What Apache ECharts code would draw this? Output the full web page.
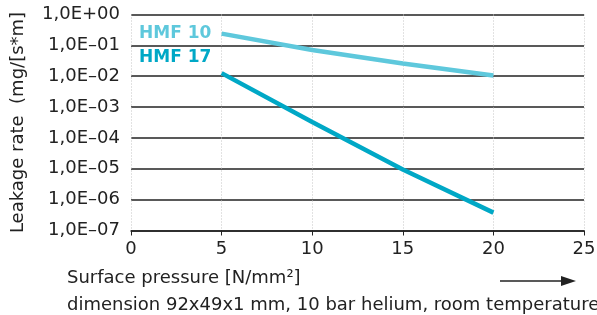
<!DOCTYPE html>
<html>
<head>
<meta charset="utf-8">
<script src="https://cdn.jsdelivr.net/npm/echarts@6/dist/echarts.min.js"></script>
<style>
  html, body { margin: 0; padding: 0; background: #fff; }
  #chart { width: 597px; height: 315px; }
</style>
</head>
<body>
<div id="chart"></div>
<script>
// surface pressure [N/mm2]
const pressure = [5, 10, 15, 20];
// leakage rate [mg/(s*m)]
const hmf10 = [0.24, 0.071, 0.026, 0.0105];
const hmf17 = [0.0126, 0.00033, 0.0000095, 0.00000038];
const seriesNames = ['HMF 10', 'HMF 17'];
const xTicks = [0, 5, 10, 15, 20, 25];

const FONT = 'DejaVu Sans';
const colors = ['#5ec8dc', '#00a8c6'];

function sciLabel(v) {
  const e = Math.round(Math.log10(v));
  const sign = e < 0 ? '\u2013' : '+';
  return '1,0E' + sign + String(Math.abs(e)).padStart(2, '0');
}

const chart = echarts.init(document.getElementById('chart'), null, { renderer: 'canvas' });

chart.setOption({
  animation: false,
  grid: { left: 131, right: 13, top: 14.5, bottom: 84.5, outerBoundsMode: 'none', containLabel: false },
  xAxis: {
    type: 'value',
    min: xTicks[0],
    max: xTicks[xTicks.length - 1],
    interval: 5,
    axisLine: { lineStyle: { color: '#222', width: 1.5 } },
    axisTick: { show: true, length: 5, lineStyle: { color: '#222' } },
    axisLabel: { color: '#222', fontFamily: FONT, fontSize: 18, margin: 10 },
    splitLine: { show: true, lineStyle: { color: '#c4c4c4', type: [1, 2], width: 1 } }
  },
  yAxis: {
    type: 'log',
    logBase: 10,
    min: 1e-7,
    max: 1,
    splitNumber: 7,
    name: 'Leakage rate  (mg/[s*m]',
    nameLocation: 'middle',
    nameGap: 104,
    nameTextStyle: { color: '#222', fontFamily: FONT, fontSize: 18 },
    axisLine: { show: false },
    axisTick: { show: false },
    axisLabel: { color: '#222', fontFamily: FONT, fontSize: 18, margin: 11, formatter: sciLabel },
    splitLine: { show: true, lineStyle: { color: '#222', width: 1.5 } }
  },
  series: [
    {
      name: seriesNames[0],
      type: 'line',
      data: pressure.map((p, i) => [p, hmf10[i]]),
      symbol: 'none',
      lineStyle: { color: colors[0], width: 4.5 },
      z: 3
    },
    {
      name: seriesNames[1],
      type: 'line',
      data: pressure.map((p, i) => [p, hmf17[i]]),
      symbol: 'none',
      lineStyle: { color: colors[1], width: 4.5 },
      z: 4
    }
  ],
  graphic: [
    { type: 'text', left: 139, top: 25, z: 10,
      style: { text: seriesNames[0], fill: colors[0], font: 'bold 17px ' + FONT } },
    { type: 'text', left: 139, top: 49, z: 10,
      style: { text: seriesNames[1], fill: colors[1], font: 'bold 17px ' + FONT } },
    { type: 'text', left: 67, top: 269,
      style: { text: 'Surface pressure [N/mm\u00b2]', fill: '#222', font: '18px ' + FONT } },
    { type: 'text', left: 67, top: 296,
      style: { text: 'dimension 92x49x1 mm, 10 bar helium, room temperature', fill: '#222', font: '18px ' + FONT } },
    { type: 'line', shape: { x1: 500, y1: 281, x2: 563, y2: 281 },
      style: { stroke: '#222', lineWidth: 1.5 } },
    { type: 'polygon', shape: { points: [[576, 281], [561, 276], [561, 286]] },
      style: { fill: '#222' } }
  ]
});
</script>
</body>
</html>
